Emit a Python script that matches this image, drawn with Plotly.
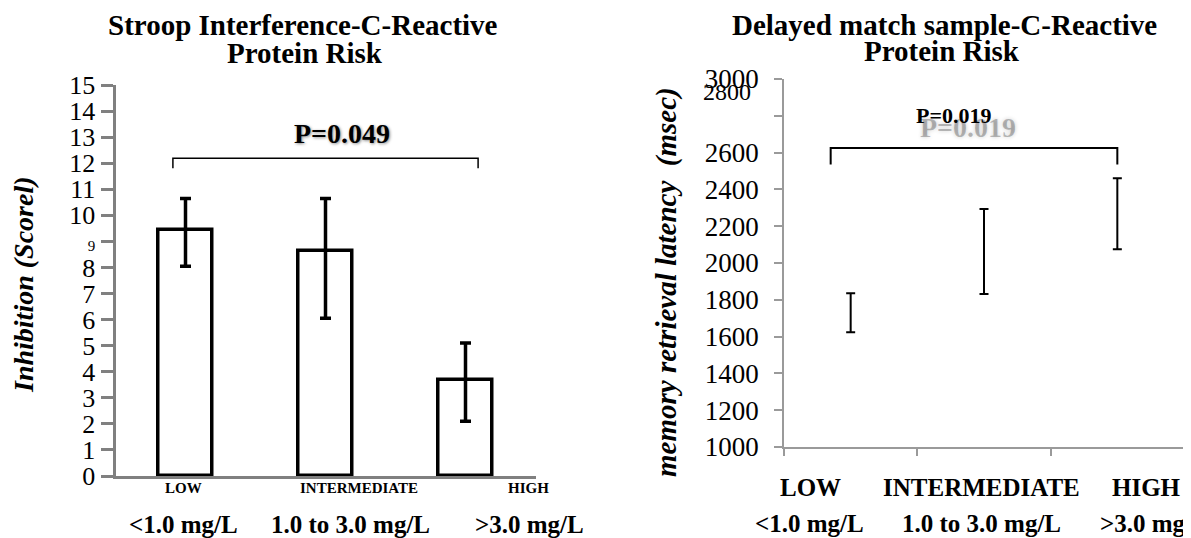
import plotly.graph_objects as go

# ---------------- data ----------------
categories = ["LOW", "INTERMEDIATE", "HIGH"]
ranges = ["<1.0 mg/L", "1.0 to 3.0 mg/L", ">3.0 mg/L"]

stroop_mean = [9.45, 8.65, 3.7]
stroop_err_plus = [1.2, 2.0, 1.4]
stroop_err_minus = [1.4, 2.6, 1.6]
stroop_p = "P=0.049"

dms_mean = [1730, 2062, 2268]
dms_err = [106, 231, 193]
dms_p = "P=0.019"

left_yticks = list(range(0, 16))
right_yticks = list(range(1000, 3001, 200))

W, H = 1191, 538
OFF = 8  # page body margin
FW, FH = W - OFF, H - OFF
FONT = "Liberation Serif, Times New Roman, serif"


def px_x(p):
    return (p - OFF) / FW


def px_y(p):
    return (FH - (p - OFF)) / FH


fig = go.Figure()
idx = list(range(len(categories)))

# left: bars with error bars
fig.add_trace(go.Bar(
    x=idx, y=stroop_mean, width=0.39,
    marker=dict(color="white", line=dict(color="black", width=3.5)),
    error_y=dict(type="data", symmetric=False, array=stroop_err_plus,
                 arrayminus=stroop_err_minus, color="black", thickness=3.5, width=5.5),
    xaxis="x", yaxis="y", showlegend=False, hoverinfo="skip"))

# left bracket
lb_x0, lb_x1 = idx[0] - 0.09, idx[-1] + 0.09
lb_y, lb_leg = 12.19, 0.38
fig.add_trace(go.Scatter(
    x=[lb_x0, lb_x0, lb_x1, lb_x1], y=[lb_y - lb_leg, lb_y, lb_y, lb_y - lb_leg],
    mode="lines", line=dict(color="black", width=1.5),
    xaxis="x", yaxis="y", showlegend=False, hoverinfo="skip"))

# right: error bars only
fig.add_trace(go.Scatter(
    x=idx, y=dms_mean, mode="markers", marker=dict(size=1, color="rgba(0,0,0,0)"),
    error_y=dict(type="data", array=dms_err, color="black", thickness=2, width=4.5),
    xaxis="x2", yaxis="y2", showlegend=False, hoverinfo="skip"))

rb_x0, rb_x1 = idx[0] - 0.15, idx[-1] + 0.0
rb_y, rb_leg = 2625, 90
fig.add_trace(go.Scatter(
    x=[rb_x0, rb_x0, rb_x1, rb_x1], y=[rb_y - rb_leg, rb_y, rb_y, rb_y - rb_leg],
    mode="lines", line=dict(color="black", width=2),
    xaxis="x2", yaxis="y2", showlegend=False, hoverinfo="skip"))

left_ticktext = []
for v in left_yticks:
    if v == 9:
        left_ticktext.append("<span style='font-size:15px'>9</span>")
    else:
        left_ticktext.append(str(v))

right_ticktext = ["" if v == 2800 else str(v) for v in right_yticks]

fig.update_layout(
    template="none",
    width=FW, height=FH,
    margin=dict(l=0, r=0, t=0, b=0, pad=0),
    paper_bgcolor="white", plot_bgcolor="white",
    font=dict(family=FONT, color="black"),
    bargap=0,
    xaxis=dict(domain=[px_x(115.5), px_x(535.5)], range=[-0.5, 2.5], automargin=False,
               showline=True, linecolor="#808080", linewidth=3,
               showticklabels=False, ticks="", showgrid=False, zeroline=False,
               fixedrange=True),
    yaxis=dict(domain=[px_y(476), px_y(85)], range=[0, 15], automargin=False,
               showline=True, linecolor="#808080", linewidth=3,
               ticks="outside", ticklen=12, tickwidth=3, tickcolor="#808080",
               tickvals=left_yticks, ticktext=left_ticktext,
               tickfont=dict(family=FONT, size=26, color="black"),
               showgrid=False, zeroline=False, fixedrange=True),
    xaxis2=dict(domain=[px_x(784), px_x(1184)], range=[-0.5, 2.5], anchor="y2",
                automargin=False,
                showline=True, linecolor="#9a9a9a", linewidth=1.5,
                ticks="outside", ticklen=7, tickwidth=1.5, tickcolor="#9a9a9a",
                tickvals=[-0.5, 0.5, 1.5], showticklabels=False,
                showgrid=False, zeroline=False, fixedrange=True),
    yaxis2=dict(domain=[px_y(447), px_y(79)], range=[1000, 3000], anchor="x2",
                automargin=False,
                showline=True, linecolor="#9a9a9a", linewidth=1.5,
                ticks="outside", ticklen=8, tickwidth=1.5, tickcolor="#9a9a9a",
                tickvals=right_yticks, ticktext=right_ticktext,
                ticklabelstandoff=10,
                tickfont=dict(family=FONT, size=27, color="black"),
                showgrid=False, zeroline=False, fixedrange=True),
)

ann = []


def add(text, x, y, size, xref="paper", yref="paper", **kw):
    font = kw.pop("font", None) or dict(family=FONT, size=size, color="black")
    d = dict(text=text, x=x, y=y, xref=xref, yref=yref, showarrow=False,
             xanchor=kw.pop("xanchor", "center"), yanchor="middle", font=font)
    d.update(kw)
    ann.append(d)


# titles
add("<b>Stroop Interference-C-Reactive</b>", px_x(303), px_y(25), 29)
add("<b>Protein Risk</b>", px_x(305), px_y(53), 29)
add("<b>Delayed match sample-C-Reactive</b>", px_x(944), px_y(25), 29)
add("<b>Protein Risk</b>", px_x(942), px_y(51), 29)

# y titles
add("<b><i>Inhibition (Scorel)</i></b>", px_x(23), px_y(285), 28, textangle=-90)
add("<b><i>memory retrieval latency\u00a0\u00a0(msec)</i></b>", px_x(666), px_y(282), 29,
    textangle=-90)

# 2800 label drawn where the original shows it
add("2800", px_x(753), px_y(92), 24, xanchor="right")

# p-values
add("<b>" + stroop_p + "</b>", 1.12, 13.15, 28, xref="x", yref="y",
    font=dict(family=FONT, size=28, color="black",
              shadow="1px 1px 3px rgba(0,0,0,0.45)"))
add("<b>" + dms_p + "</b>", 0.88, 2734, 28, xref="x2", yref="y2",
    font=dict(family=FONT, size=28, color="rgba(0,0,0,0.25)",
              shadow="0px 0px 4px rgba(0,0,0,0.8)"))
add("<b>" + dms_p + "</b>", 0.77, 2804, 22, xref="x2", yref="y2")

# left category labels
left_cat_px = [183.5, 359, 528]
left_rng_px = [183, 350, 529]
for c, r, cx, rx in zip(categories, ranges, left_cat_px, left_rng_px):
    add("<b>" + c + "</b>", px_x(cx), px_y(488), 15)
    add("<b>" + r + "</b>", px_x(rx), px_y(524), 25)

# right category labels
right_cat_px = [811, 981, 1146]
right_rng_px = [809, 981, 1154]
for c, r, cx, rx in zip(categories, ranges, right_cat_px, right_rng_px):
    add("<b>" + c + "</b>", px_x(cx), px_y(487), 25)
    add("<b>" + r + "</b>", px_x(rx), px_y(523), 25)

fig.update_layout(annotations=ann)
fig.write_html("out.html")
